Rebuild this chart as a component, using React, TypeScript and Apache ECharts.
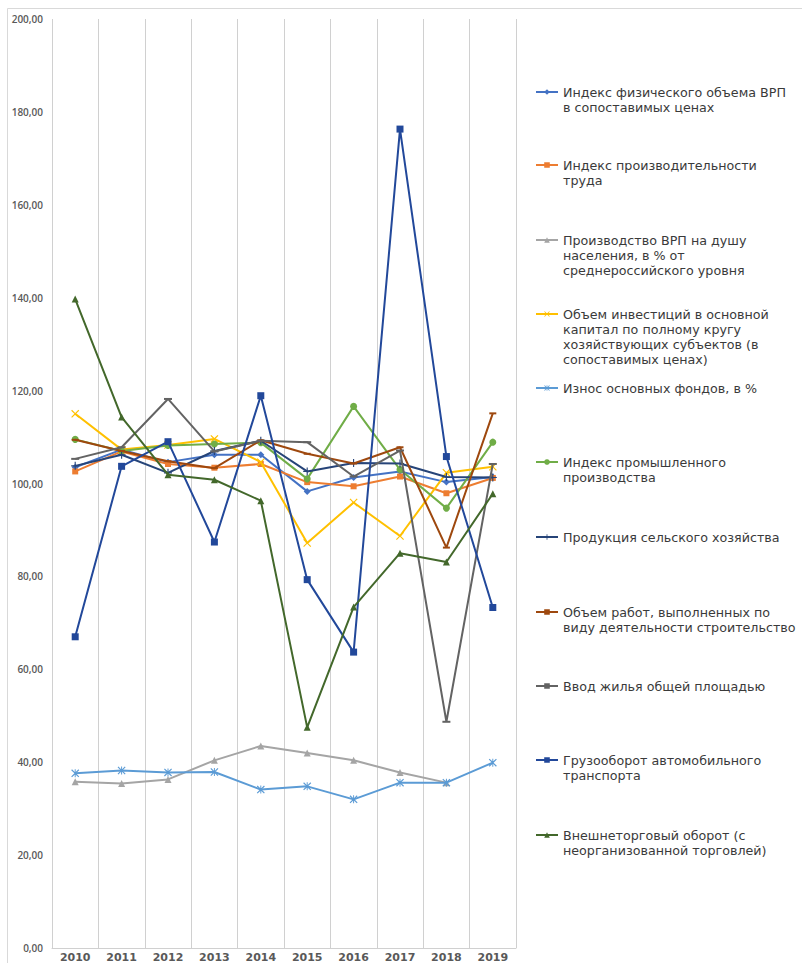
import React, { useEffect, useRef } from "react";
import * as echarts from "echarts";

const years = ["2010", "2011", "2012", "2013", "2014", "2015", "2016", "2017", "2018", "2019"];
const yTicks = { min: 0, max: 200, interval: 20 };

const grpIndex = [103.5, 107.3, 104.6, 106.2, 106.2, 98.3, 101.3, 102.6, 100.3, 101.4];
const laborProductivity = [102.6, 106.9, 104.2, 103.4, 104.2, 100.3, 99.4, 101.5, 97.9, 101.2];
const grpPerCapita = [35.8, 35.4, 36.3, 40.4, 43.5, 42.0, 40.4, 37.8, 35.6, null];
const investments = [115.0, 107.3, 108.3, 109.6, 104.6, 87.2, 95.9, 88.7, 102.3, 103.6];
const assetWear = [37.6, 38.2, 37.8, 37.9, 34.1, 34.8, 32.0, 35.6, 35.6, 39.9];
const industrialIndex = [109.5, 107.0, 108.2, 108.5, 108.8, 101.0, 116.6, 103.0, 94.7, 108.9];
const agriculture = [103.8, 106.2, 102.3, 107.0, 109.2, 102.6, 104.4, 104.3, 101.4, 101.3];
const construction = [109.4, 107.0, 104.8, 103.3, 109.3, 106.4, 104.3, 107.8, 86.2, 115.1];
const housing = [105.3, 107.8, 118.2, 106.9, 109.2, 108.9, 101.5, 107.1, 48.7, 104.2];
const freight = [67.0, 103.7, 109.0, 87.4, 118.9, 79.3, 63.7, 176.3, 105.8, 73.3];
const foreignTrade = [139.7, 114.3, 101.9, 100.8, 96.3, 47.5, 73.4, 85.0, 83.1, 97.8];

const legendLines = [
  ["Индекс физического объема ВРП", "в сопоставимых ценах"],
  ["Индекс производительности", "труда"],
  ["Производство ВРП на душу", "населения, в % от", "среднероссийского уровня"],
  ["Объем инвестиций в основной", "капитал по полному кругу", "хозяйствующих субъектов (в", "сопоставимых ценах)"],
  ["Износ основных фондов, в %"],
  ["Индекс промышленного", "производства"],
  ["Продукция сельского хозяйства"],
  ["Объем работ, выполненных по", "виду деятельности строительство"],
  ["Ввод жилья общей площадью"],
  ["Грузооборот автомобильного", "транспорта"],
  ["Внешнеторговый оборот (с", "неорганизованной торговлей)"],
];
const seriesNames = legendLines.map((l) => l.join(" "));
const seriesData = [
  grpIndex, laborProductivity, grpPerCapita, investments, assetWear,
  industrialIndex, agriculture, construction, housing, freight, foreignTrade,
];

const colors = [
  "#4472C4", "#ED7D31", "#A5A5A5", "#FFC000", "#5B9BD5",
  "#70AD47", "#264478", "#9E480E", "#636363", "#22489A", "#43682B",
];

const X_PATH = "path://M1,0 L5,4 L9,0 L10,1 L6,5 L10,9 L9,10 L5,6 L1,10 L0,9 L4,5 L0,1 Z";
const STAR_PATH =
  "path://M1,0 L5,4 L9,0 L10,1 L6,5 L10,9 L9,10 L5,6 L1,10 L0,9 L4,5 L0,1 Z M4.4,0 L5.6,0 L5.6,10 L4.4,10 Z";
const PLUS_PATH = "path://M4.3,0 H5.7 V4.3 H10 V5.7 H5.7 V10 H4.3 V5.7 H0 V4.3 H4.3 Z";

const symbols: any[] = [
  "diamond", "rect", "triangle", X_PATH, STAR_PATH, "circle", PLUS_PATH, "rect", "rect", "rect", "triangle",
];
const symbolSizes: any[] = [7, 6, 7, 8, 8, 7, 8, [7, 2], [8, 2], 7, 7];

const legendFirstLineY = [92, 165, 240, 314, 388, 462, 537, 612, 686, 760, 835];
const LH = 15.2;

export default function App() {
  const ref = useRef<HTMLDivElement>(null);
  useEffect(() => {
    if (!ref.current) return;
    const chart = echarts.init(ref.current, undefined, { renderer: "svg" });
    const legends = seriesNames.map((name, i) => {
      const n = legendLines[i].length;
      return {
        data: [name],
        orient: "vertical",
        left: 535,
        top: legendFirstLineY[i] - ((2 * n - 1) * LH) / 2,
        padding: 0,
        itemWidth: 22,
        itemHeight: 7,
        selectedMode: false,
        formatter: () => "\n".repeat(n - 1) + legendLines[i].join("\n"),
        textStyle: {
          color: "#3a3a3a",
          fontSize: 12.7,
          fontFamily: "DejaVu Sans",
          lineHeight: LH,
        },
      };
    });
    chart.setOption({
      animation: false,
      backgroundColor: "#ffffff",
      color: colors,
      grid: { left: 52, right: 286, top: 19, bottom: 15, containLabel: false },
      legend: legends,
      graphic: [
        {
          type: "rect",
          left: 5,
          top: 6,
          shape: { width: 820, height: 980 },
          style: { fill: "none", stroke: "#d9d9d9", lineWidth: 1 },
          silent: true,
        },
      ],
      xAxis: {
        type: "category",
        data: years,
        boundaryGap: true,
        axisLine: { show: true, lineStyle: { color: "#d0d0d0", width: 1 } },
        axisTick: { show: false },
        splitLine: { show: true, lineStyle: { color: "#d0d0d0", width: 1 } },
        axisLabel: {
          color: "#595959",
          fontSize: 11,
          fontWeight: "bold",
          fontFamily: "DejaVu Sans",
          margin: 4,
        },
      },
      yAxis: {
        type: "value",
        min: yTicks.min,
        max: yTicks.max,
        interval: yTicks.interval,
        axisLine: { show: false },
        axisTick: { show: false },
        splitLine: { show: false },
        axisLabel: {
          color: "#595959",
          fontSize: 10,
          fontWeight: 600,
          fontFamily: "Open Sans",
          margin: 9,
          formatter: (v: number) => v.toFixed(2).replace(".", ","),
        },
      },
      series: seriesNames.map((name, i) => ({
        name,
        type: "line",
        data: seriesData[i],
        symbol: symbols[i],
        symbolSize: symbolSizes[i],
        showAllSymbol: true,
        connectNulls: false,
        lineStyle: { color: colors[i], width: 2 },
        itemStyle: { color: colors[i], borderWidth: 0 },
        emphasis: { disabled: true },
        z: 2 + i,
      })),
    });
    return () => chart.dispose();
  }, []);
  return (
    <div
      ref={ref}
      style={{ position: "absolute", left: 0, top: 0, width: 802, height: 963, background: "#fff" }}
    />
  );
}
